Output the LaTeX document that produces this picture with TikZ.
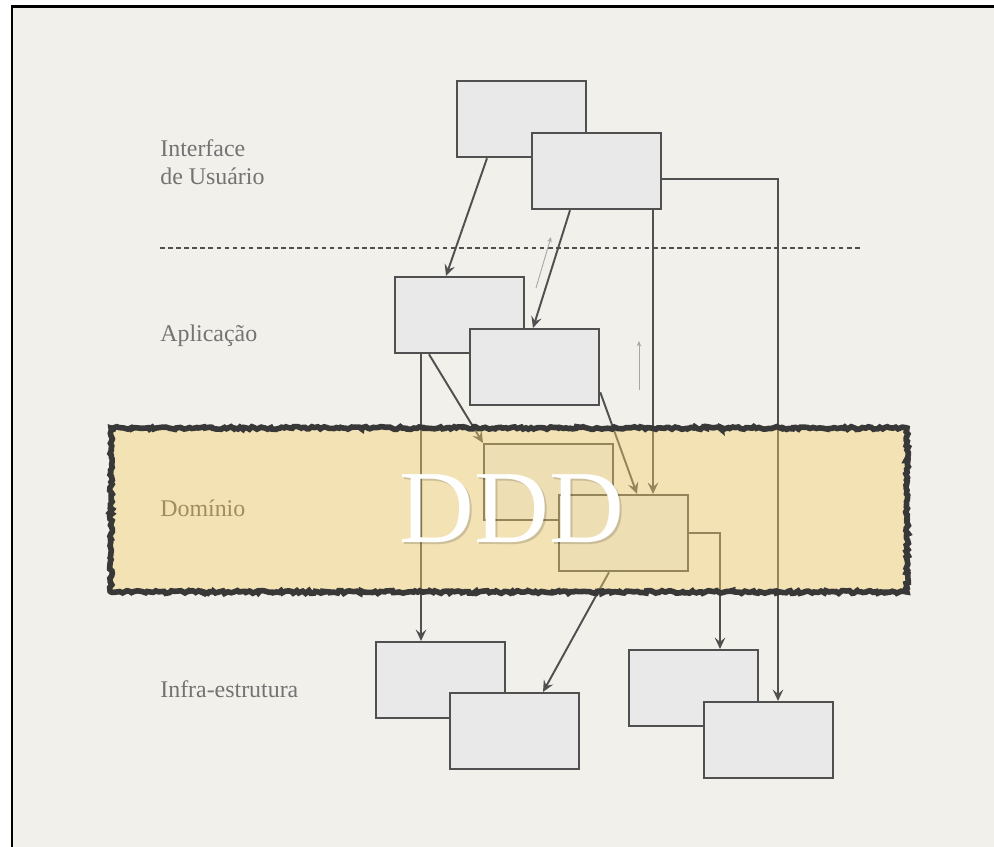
\documentclass[tikz,border=0pt]{standalone}
\usepackage{fontspec}
\setmainfont{Liberation Serif}
\usetikzlibrary{arrows.meta,calc,decorations.pathmorphing}
\definecolor{paper}{RGB}{241,240,235}
\definecolor{boxfill}{RGB}{233,233,233}
\definecolor{boxline}{RGB}{80,80,80}
\definecolor{labelc}{RGB}{115,115,115}
\definecolor{tint}{RGB}{245,207,106}
\definecolor{domlabel}{RGB}{160,140,95}
\tikzset{
  layerbox/.style={draw=boxline, fill=boxfill, line width=1.3pt, minimum width=2.58cm,
    minimum height=1.52cm, inner sep=0pt, anchor=north west},
  link/.style={draw=boxline, line width=1.1pt, -{Stealth[length=6.5pt,width=6pt,inset=2.5pt]}},
  hint/.style={draw=gray!70, line width=0.5pt, -{Stealth[length=3pt,width=2.5pt]}},
  layer/.style={text=labelc, font=\fontsize{13.6}{16.5}\selectfont, anchor=base west,
    align=left, inner sep=0pt},
}
\begin{document}
\begin{tikzpicture}[x=0.02cm, y=-0.02cm]
\useasboundingbox (0,0) rectangle (994,847);
\fill[white] (0,0) rectangle (994,847);
\fill[paper] (12,7) rectangle (994,847);
\draw[line width=1.7pt] (12,847) -- (12,7) -- (994,7);

% layer names
\node[layer] (ui) at (160,185) {Interface\\de Usuário};
\node[layer] (app) at (160,342) {Aplicação};
\node[layer] (infra) at (160,697) {Infra-estrutura};
\draw[boxline, line width=1pt, dash pattern=on 2.6pt off 2pt] (160,248) -- (862,248);

% boxes
\node[layerbox] (u1) at (456,80) {};
\node[layerbox] (u2) at (531,132) {};
\node[layerbox] (a1) at (394,276) {};
\node[layerbox] (a2) at (469,328) {};
\node[layerbox] (d1) at (483,443) {};
\node[layerbox] (d2) at (558,494) {};
\node[layerbox] (i1) at (375,641) {};
\node[layerbox] (i2) at (449,692) {};
\node[layerbox] (i3) at (628,649) {};
\node[layerbox] (i4) at (703,701) {};

% dependencies
\draw[link] ($(u1.south west)+(31,0)$) -- ($(a1.north west)+(52,0)$);
\draw[link] ($(u2.south west)+(39,0)$) -- ($(a2.north west)+(64,0)$);
\draw[link] ($(u2.east)+(0,8)$) -| ($(i4.north west)+(75,0)$);
\draw[link] ($(u2.south west)+(122,0)$) -- ($(d2.north west)+(95,0)$);
\draw[link] ($(a1.south west)+(27,0)$) -- ($(i1.north west)+(46,0)$);
\draw[link] ($(a1.south west)+(35,0)$) -- (d1.north west);
\draw[link] ($(a2.south east)+(0,-14)$) -- ($(d2.north west)+(79,0)$);
\draw[link] (d2.east) -| ($(i3.north west)+(92,0)$);
\draw[link] ($(d2.south west)+(51,0)$) -- ($(i2.north west)+(94,0)$);

\coordinate (h1) at (536,288);
\coordinate (h1e) at (551,237);
\coordinate (h2) at (639,390);
\coordinate (h2e) at (639,341);
\draw[hint] (h1) -- (h1e);
\draw[hint] (h2) -- (h2e);

% domain band
\pgfmathsetseed{7}
\path[fill=tint, fill opacity=0.42] (111,428) rectangle (907,592);
\draw[decorate, decoration={random steps, segment length=1.4pt, amplitude=0.8pt},
  draw=black!78, line width=3.2pt] (111,428) rectangle (907,592);
\node[layer, text=domlabel] (dom) at (160,517) {Domínio};
\node[text=black, opacity=0.15, font=\fontsize{59}{59}\selectfont] at (514,511) {DDD};
\node[text=white, font=\fontsize{59}{59}\selectfont] (ddd) at (512,509) {DDD};
\end{tikzpicture}
\end{document}
